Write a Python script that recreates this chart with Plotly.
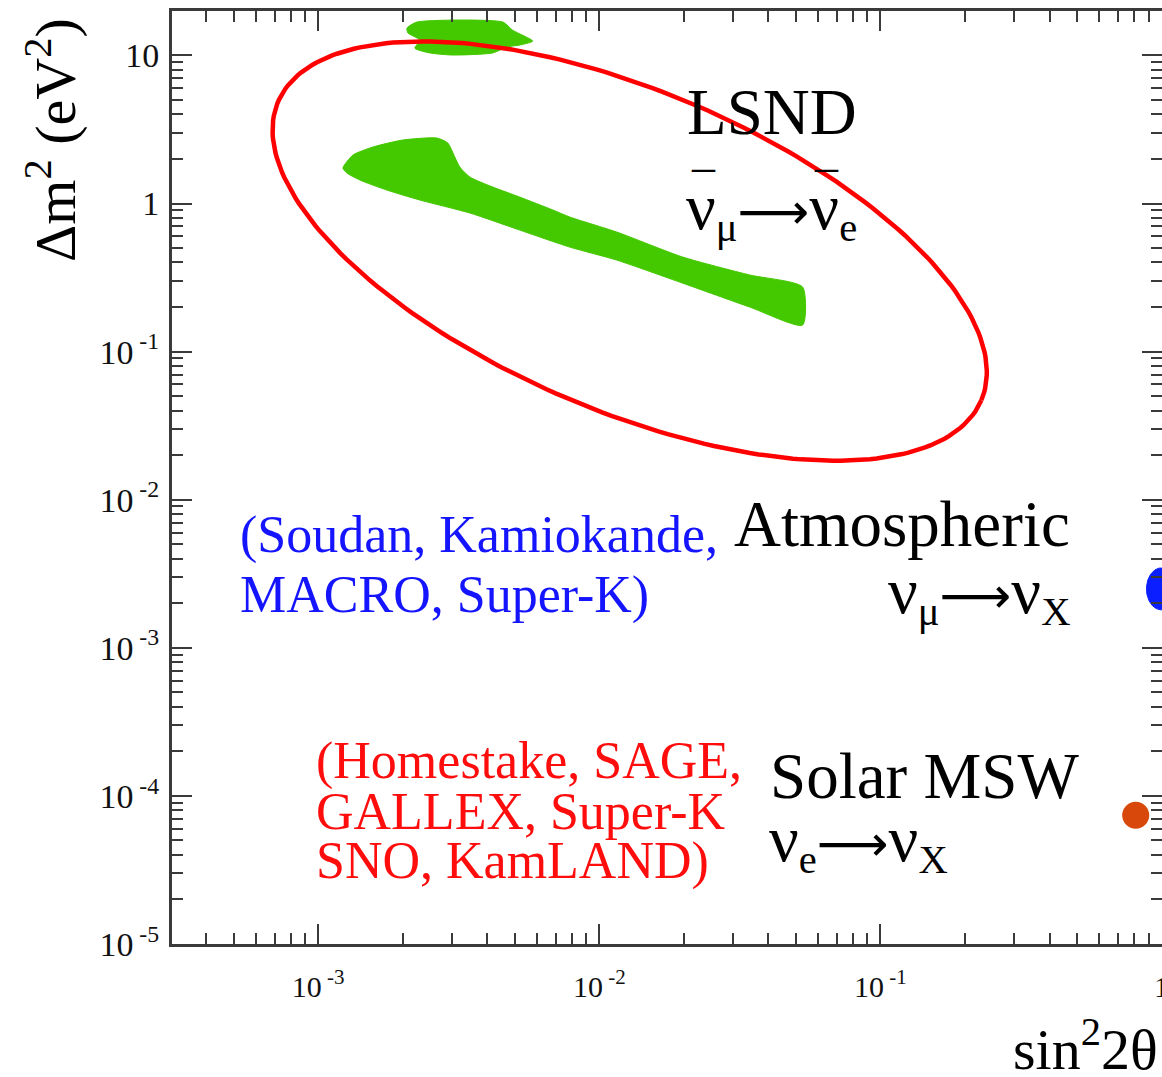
import numpy as np
import plotly.graph_objects as go

# ---- page / axis geometry -------------------------------------------------
FIG_W, FIG_H = 1162, 1077
MARGIN = dict(l=172, r=0, t=11, b=133)
X_RANGE_LOG = (-3.52, 0.002)   # sin^2(2θ) from ~3e-4 to 1
Y_RANGE_LOG = (-5.0, 1.30)     # Δm^2 from 1e-5 to ~20 eV^2

# ---- LSND allowed region (sin^2 2θ, Δm^2 in eV^2) ------------------------
lsnd_main_s2t = [1.225e-3, 1.330e-3, 1.566e-3, 2.000e-3, 2.644e-3, 2.892e-3,
                 3.063e-3, 3.190e-3, 3.465e-3, 4.180e-3, 5.210e-3, 6.840e-3,
                 7.850e-3, 1.154e-2, 1.980e-2, 3.430e-2, 5.290e-2, 5.290e-2,
                 3.430e-2, 1.980e-2, 1.154e-2, 7.850e-3, 5.210e-3, 3.465e-3,
                 2.300e-3, 1.755e-3, 1.407e-3, 1.265e-3]
lsnd_main_dm2 = [1.736, 2.126, 2.407, 2.685, 2.769, 2.562,
                 2.061, 1.764, 1.510, 1.292, 1.106, 0.904,
                 0.811, 0.642, 0.435, 0.329, 0.273, 0.151,
                 0.200, 0.290, 0.415, 0.508, 0.662, 0.863,
                 1.056, 1.233, 1.441, 1.607]

lsnd_high_s2t = [2.070e-3, 2.245e-3, 4.540e-3, 4.920e-3, 5.800e-3, 5.210e-3,
                 4.690e-3, 4.180e-3, 3.013e-3, 2.496e-3, 2.208e-3, 2.300e-3,
                 2.085e-3]
lsnd_high_dm2 = [15.3, 16.8, 16.8, 14.8, 12.5, 11.75,
                 11.4, 10.4, 10.06, 10.4, 11.2, 12.7,
                 14.2]

# ---- best-fit points -----------------------------------------------------
atm_s2t, atm_dm2 = 1.0, 2.5e-3      # atmospheric ν_μ → ν_X
sol_s2t, sol_dm2 = 0.81, 7.4e-5     # solar MSW ν_e → ν_X

# ---- highlight ellipse around the LSND region ----------------------------
ring_s2t, ring_dm2 = 0.01283, 0.4775
RING_SEMI_PX = (382, 160)
RING_TILT_DEG = 23

# ---- ticks ---------------------------------------------------------------
x_tick_vals = [1e-3, 1e-2, 1e-1, 1]
x_tick_text = ["10<sup> -3</sup>", "10<sup> -2</sup>", "10<sup> -1</sup>", "1"]
y_tick_vals = [1e-5, 1e-4, 1e-3, 1e-2, 1e-1, 1, 10]
y_tick_text = ["10<sup> -5</sup>", "10<sup> -4</sup>", "10<sup> -3</sup>",
               "10<sup> -2</sup>", "10<sup> -1</sup>", "1", "10"]

plot_w = FIG_W - MARGIN["l"] - MARGIN["r"]
plot_h = FIG_H - MARGIN["t"] - MARGIN["b"]
px_per_dec_x = plot_w / (X_RANGE_LOG[1] - X_RANGE_LOG[0])
px_per_dec_y = plot_h / (Y_RANGE_LOG[1] - Y_RANGE_LOG[0])


def ellipse(cx, cy, a_px, b_px, tilt_deg=0.0, n=240):
    """Ellipse sized in screen pixels, returned in log-axis data units."""
    t = np.linspace(0, 2 * np.pi, n)
    th = np.radians(tilt_deg)
    dx = a_px * np.cos(t) * np.cos(th) - b_px * np.sin(t) * np.sin(th)
    dy = a_px * np.cos(t) * np.sin(th) + b_px * np.sin(t) * np.cos(th)
    x = 10 ** (np.log10(cx) + dx / px_per_dec_x)
    y = 10 ** (np.log10(cy) - dy / px_per_dec_y)
    return x, y


GREEN = "#44c800"
SERIF = "Liberation Serif"

fig = go.Figure()

for xs, ys in ((lsnd_main_s2t, lsnd_main_dm2), (lsnd_high_s2t, lsnd_high_dm2)):
    fig.add_trace(go.Scatter(
        x=xs + xs[:1], y=ys + ys[:1], mode="lines", fill="toself",
        fillcolor=GREEN, line=dict(color=GREEN, width=1, shape="spline", smoothing=0.6),
        hoverinfo="skip", showlegend=False))

bx, by = ellipse(atm_s2t, atm_dm2, 15, 21)
fig.add_trace(go.Scatter(x=bx, y=by, mode="lines", fill="toself",
                         fillcolor="#0a1eff", line=dict(color="#0a1eff", width=1),
                         hoverinfo="skip", showlegend=False))

fig.add_trace(go.Scatter(x=[sol_s2t], y=[sol_dm2], mode="markers",
                         marker=dict(size=27, color="#d8480a", line=dict(width=0)),
                         hoverinfo="skip", showlegend=False))

ex, ey = ellipse(ring_s2t, ring_dm2, *RING_SEMI_PX, RING_TILT_DEG)
fig.add_trace(go.Scatter(x=ex, y=ey, mode="lines",
                         line=dict(color="#ff0000", width=4.5),
                         hoverinfo="skip", showlegend=False))


def px_x(px):
    return (px - MARGIN["l"]) / plot_w


def px_y(py):
    return (FIG_H - MARGIN["b"] - py) / plot_h


def nu(size):
    return f'<span style="font-size:{size}px">\u03bd</span>'


ARROW = '<span style="font-family:DejaVu Sans;font-size:50px">\u27f6</span>'


def reaction(a, b, nu_size):
    return f"{nu(nu_size)}<sub>{a}</sub>{ARROW}{nu(nu_size)}<sub>{b}</sub>"


BLACK_SIZE = 65
labels = [
    # text, x px, centre y px, anchor, size, colour
    ("LSND", 685, 112, "left", BLACK_SIZE, "#000000"),
    (reaction("\u03bc", "e", 66), 684, 210, "left", 58, "#000000"),
    ("Atmospheric", 1072, 524, "right", BLACK_SIZE, "#000000"),
    (reaction("\u03bc", "X", 66), 1072, 594, "right", 58, "#000000"),
    ("Solar MSW", 768, 776, "left", BLACK_SIZE, "#000000"),
    (reaction("e", "X", 66), 767, 842, "left", 58, "#000000"),
    ("(Soudan, Kamiokande,", 238, 535, "left", 52, "#1414ff"),
    ("MACRO, Super-K)", 238, 595, "left", 52, "#1414ff"),
    ("(Homestake, SAGE,", 314, 761, "left", 52, "#ff0c0c"),
    ("GALLEX, Super-K", 314, 811, "left", 52, "#ff0c0c"),
    ("SNO, KamLAND)", 314, 861, "left", 52, "#ff0c0c"),
]
for text, x, y, anchor, size, color in labels:
    fig.add_annotation(x=px_x(x), y=px_y(y), xref="paper", yref="paper",
                       text=text, showarrow=False, xanchor=anchor, yanchor="middle",
                       font=dict(family=SERIF, size=size, color=color))

# bars over the two antineutrinos in the LSND channel
for bar_x in (703, 826):
    fig.add_annotation(x=px_x(bar_x), y=px_y(166), xref="paper", yref="paper",
                       text="\u2013", showarrow=False, xanchor="center", yanchor="middle",
                       font=dict(family=SERIF, size=46, color="#000000"))

# axis titles
fig.add_annotation(x=px_x(1160), y=px_y(1045), xref="paper", yref="paper",
                   text="sin<sup>2</sup>2\u03b8", showarrow=False,
                   xanchor="right", yanchor="middle",
                   font=dict(family=SERIF, size=58, color="#000000"))
fig.add_annotation(x=px_x(52), y=px_y(140), xref="paper", yref="paper",
                   text="\u0394m<sup>2</sup> (eV<sup>2</sup>)", showarrow=False,
                   textangle=-90, xanchor="center", yanchor="middle",
                   font=dict(family=SERIF, size=58, color="#000000"))

axis_common = dict(
    type="log", showgrid=False, zeroline=False, automargin=False,
    showline=True, linecolor="#3a3a3a", linewidth=3, mirror="ticks",
    ticks="inside", ticklen=20, tickwidth=2, tickcolor="#3a3a3a",
    ticklabeloverflow="allow",
    minor=dict(ticks="inside", ticklen=11, tickwidth=2, tickcolor="#3a3a3a",
               dtick="D1", showgrid=False),
)

fig.update_xaxes(range=list(X_RANGE_LOG), tickvals=x_tick_vals, ticktext=x_tick_text,
                 tickfont=dict(family=SERIF, size=30, color="#111111"),
                 ticklabelstandoff=14, **axis_common)
fig.update_yaxes(range=list(Y_RANGE_LOG), tickvals=y_tick_vals, ticktext=y_tick_text,
                 tickfont=dict(family=SERIF, size=34, color="#111111"),
                 ticklabelstandoff=3, **axis_common)

fig.update_layout(
    width=FIG_W, height=FIG_H, margin=MARGIN,
    paper_bgcolor="white", plot_bgcolor="white",
    showlegend=False,
)

fig.write_html("out.html")
